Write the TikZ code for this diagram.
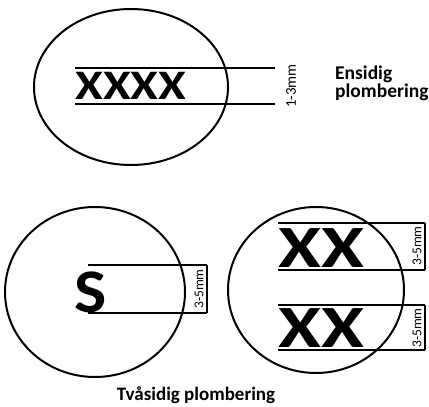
\documentclass[tikz,border=0pt]{standalone}
\usepackage{fontspec}
\setmainfont{Carlito}
\begin{document}
\begin{tikzpicture}[x=1pt,y=-1pt,
  ring/.style={line width=2pt},
  bar/.style={line width=2.8pt},
  tick/.style={line width=1.8pt},
  stamp/.style={font=\bfseries\fontsize{42}{42}\selectfont,inner sep=0pt},
  gap/.style={rotate=90,inner sep=0pt,font=\fontsize{13.5}{14}\selectfont},
  caption/.style={font=\bfseries\fontsize{19.5}{17.5}\selectfont,align=left,inner sep=0pt}]
\useasboundingbox (0,0) rectangle (429,407);
% ensidig
\draw[ring] (131,87) ellipse [x radius=97,y radius=78];
\coordinate (a1) at (75,68);
\coordinate (a2) at (275,68);
\coordinate (a3) at (75,104);
\coordinate (a4) at (275,104);
\draw[bar] (a1) -- (a2);
\draw[bar] (a3) -- (a4);
\node[stamp,anchor=west,xscale=1.2] (xxxx) at (75,86) {XXXX};
\node[gap,font=\fontsize{15}{16}\selectfont] (g1) at (291,86) {1-3mm};
\node[caption,anchor=north west] (ens) at (335,66) {Ensidig\\plombering};
% tvasidig, S
\draw[ring] (95,292) ellipse [x radius=90,y radius=85];
\coordinate (b1) at (88,265);
\coordinate (b2) at (207,265);
\coordinate (b3) at (88,313);
\coordinate (b4) at (207,313);
\draw[bar] (b1) -- (b2);
\draw[bar] (b3) -- (b4);
\draw[tick] (b2) -- (b4);
\node[stamp,font=\bfseries\fontsize{62}{62}\selectfont,xscale=1.1] (s) at (91,292) {S};
\node[gap] (g2) at (199,289) {3-5mm};
% tvasidig, XX
\draw[ring] (316,290) ellipse [x radius=88,y radius=83];
\coordinate (c1) at (278,223);
\coordinate (c2) at (425,223);
\coordinate (c3) at (278,270);
\coordinate (c4) at (425,270);
\coordinate (c5) at (278,305);
\coordinate (c6) at (425,305);
\coordinate (c7) at (278,350);
\coordinate (c8) at (425,350);
\foreach \p/\q in {c1/c2,c3/c4,c5/c6,c7/c8}
  \draw[bar] (\p) -- (\q);
\draw[tick] (c2) -- (c4);
\draw[tick] (c6) -- (c8);
\node[stamp,font=\bfseries\fontsize{60}{60}\selectfont,anchor=west,xscale=1.3] (xx1) at (278,248) {XX};
\node[stamp,font=\bfseries\fontsize{60}{60}\selectfont,anchor=west,xscale=1.3] (xx2) at (278,328) {XX};
\node[gap] (g3) at (417,246) {3-5mm};
\node[gap] (g4) at (417,328) {3-5mm};
\node[caption,anchor=base,font=\bfseries\fontsize{19}{19}\selectfont] (two) at (196,400) {Tvåsidig plombering};
\end{tikzpicture}
\end{document}
